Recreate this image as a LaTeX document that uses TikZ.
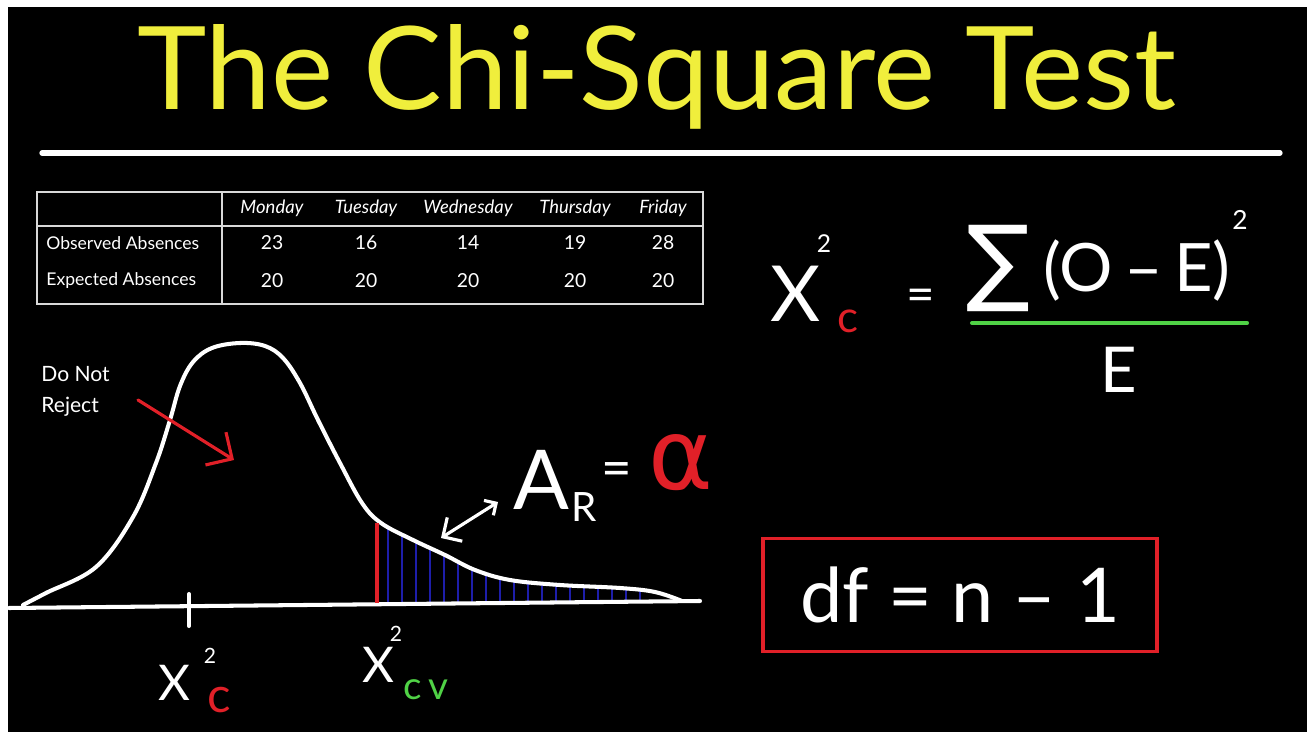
\documentclass[tikz,border=0pt]{standalone}
\usepackage{fontspec}
\setmainfont{Lato}
\newfontfamily\symfont{DejaVu Sans}
\usetikzlibrary{arrows.meta,positioning}
\definecolor{chalkyellow}{RGB}{240,238,60}
\definecolor{chalkred}{RGB}{225,32,40}
\definecolor{chalkgreen}{RGB}{80,210,70}
\definecolor{chalkblue}{RGB}{30,30,170}
\newcommand{\chalk}[1]{\fontsize{#1}{#1}\selectfont}

\begin{document}
\begin{tikzpicture}[x=0.02cm,y=-0.02cm,
    chalkline/.style={white,line width=2.3pt,line cap=round,line join=round},
    tableline/.style={white!85!black,line width=1.1pt},
    hand/.style={text=white,inner sep=0pt},
    cell/.style={text=white,inner sep=0pt,font=\chalk{10}},
    hatch/.style={chalkblue,line width=1.6pt}]
    \useasboundingbox (0,0) rectangle (1307,732);
    \fill[white] (0,0) rectangle (1307,732);
    \fill[black] (8,7) rectangle (1307,732);

    % Title
    \node[anchor=base west,inner sep=0pt,text=chalkyellow] (title) at (137,110)
        {\resizebox{20.76cm}{1.7cm}{The Chi-Square Test}};
    \draw[white,line width=3pt,line cap=round] (42,153) -- (1280,153);

    % Table
    \draw[tableline] (37,192) rectangle (703,304);
    \draw[tableline] (222,192) -- (222,304);
    \draw[tableline] (37,226) -- (703,226);
    \foreach \x/\day in {272/Monday, 366/Tuesday, 468/Wednesday, 575/Thursday, 663/Friday} {
        \node[cell,font=\chalk{10.5}\itshape] (day-\day) at (\x,208) {\day};
    }
    \node[cell,anchor=west] (obslabel) at (46,243) {Observed Absences};
    \node[cell,anchor=west] (explabel) at (46,281) {Expected Absences};
    \foreach \x/\v [count=\i] in {272/23, 366/16, 468/14, 575/19, 663/28} {
        \node[cell,font=\chalk{11}] (obs-\i) at (\x,243) {\v};
        \node[cell,font=\chalk{11}] (exp-\i) at (\x,281) {20};
    }

    % Formula for the test statistic
    \node[hand,font=\chalk{44}] (xc) at (796,294) {X};
    \node[hand,font=\chalk{14}] (xcsq) at (824,244) {2};
    \node[hand,text=chalkred,font=\chalk{25}] (xcsub) at (848,321) {c};
    \node[hand,font=\chalk{28}] (eq) at (921,300) {=};
    \node[hand,font=\symfont\chalk{54}] (sum) at (998,268) {∑};
    \node[hand,font=\chalk{38}] (oe) at (1137,271) {(O\,–\,E)};
    \node[hand,font=\chalk{15}] (oesq) at (1240,220) {2};
    \draw[chalkgreen,line width=2.3pt,line cap=round] (972,323) -- (1247,323);
    \node[hand,font=\chalk{36}] (den) at (1119,370) {E};

    % Distribution curve
    \path[save path=\bellpath] plot[smooth,tension=0.6] coordinates {
        (23,605) (46,593) (96,567) (133,517) (156,463) (170,420) (180,386)
        (193,362) (212,348) (240,343) (265,346) (283,358) (300,383) (318,420)
        (340,463) (362,503) (381,523) (413,540) (445,555) (475,570) (510,580)
        (560,585) (620,588) (655,592) (682,601)};
    \begin{scope}
        \clip[use path=\bellpath];
        \foreach \x in {388,402,...,643} {
            \draw[hatch] (\x,612) -- (\x,500);
        }
    \end{scope}
    \draw[chalkline,use path=\bellpath];
    \draw[chalkline] (9,608) -- (700,601);
    \draw[chalkline] (189,594) -- (189,626);
    \draw[chalkred,line width=2pt] (377,523) -- (377,603);

    % Region labels
    \node[hand,align=left,anchor=north west,font=\fontsize{12}{17.5}\selectfont] (dnr) at (41,366)
        {Do Not\\Reject};
    \coordinate (dnrstart) at (138,400);
    \coordinate (dnrtip) at (234,460);
    \draw[chalkred,line width=1.8pt,line cap=round,-{Straight Barb[length=11pt,width=22pt]}] (dnrstart) -- (dnrtip);

    \node[hand,font=\chalk{47}] (ar) at (541,480) {A};
    \node[hand,font=\chalk{23}] (arsub) at (584,507) {R};
    \node[hand,font=\chalk{30}] (areq) at (617,475) {=};
    \node[hand,text=chalkred,font=\symfont\chalk{56}] (alpha) at (681,463) {α};
    \coordinate (tailend) at (441,538);
    \coordinate (arend) at (498,502);
    \draw[white,line width=1.8pt,line cap=round,{Straight Barb[length=8pt,width=16pt]}-{Straight Barb[length=5pt,width=10pt]}] (tailend) -- (arend);

    % Axis labels
    \node[hand,font=\chalk{28}] (xcaxis) at (174,683) {X};
    \node[hand,font=\chalk{12}] (xcaxissq) at (210,656) {2};
    \node[hand,text=chalkred,font=\chalk{28}] (xcaxissub) at (219,700) {c};
    \node[hand,font=\chalk{28}] (xcv) at (378,665) {X};
    \node[hand,font=\chalk{12}] (xcvsq) at (396,634) {2};
    \node[hand,text=chalkgreen,font=\chalk{22}] (xcvsub) at (426,690) {c\,v};

    % Degrees of freedom
    \node[draw=chalkred,line width=2pt,minimum width=7.88cm,minimum height=2.26cm,
        text=white,font=\chalk{43}] (dfbox) at (960,595) {df = n – 1};
\end{tikzpicture}
\end{document}
